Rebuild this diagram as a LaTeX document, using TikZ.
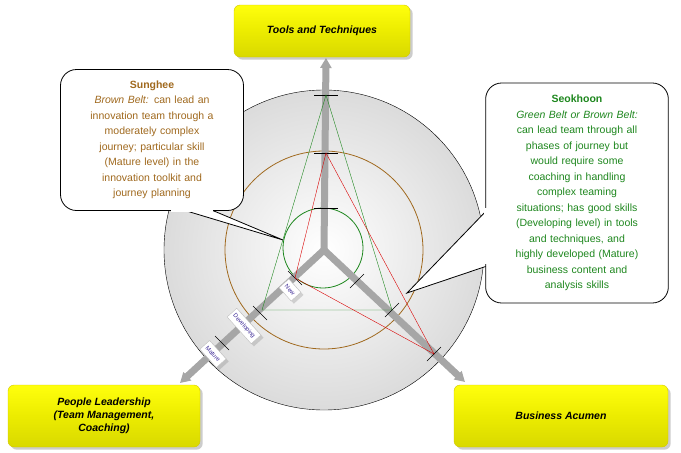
\documentclass[tikz,border=0pt]{standalone}
\usepackage{fontspec}
\setmainfont{Liberation Sans}
\usetikzlibrary{shadows,arrows.meta}
\definecolor{brn}{RGB}{160,105,30}
\definecolor{grn}{RGB}{30,135,30}
\definecolor{lbl}{RGB}{60,40,150}
\begin{document}
\begin{tikzpicture}[x=1pt,y=-1pt,
  ybox/.style={draw=yellow!60!olive, rounded corners=6pt, top color=yellow!95!white, bottom color=yellow!70!olive, drop shadow={opacity=0.4}, font=\bfseries\itshape\fontsize{10.5}{13}\selectfont, align=center},
  callout/.style={draw=black, thick, fill=white, rounded corners=16pt, align=center, font=\fontsize{10.5}{15.5}\selectfont},
  axis/.style={line width=7pt, draw=gray!70, -{Triangle[length=10pt,width=11pt]}},
  tick/.style={draw=black, line width=0.6pt},
  lvl/.style={draw=gray!50, fill=white, font=\fontsize{6}{7}\selectfont, text=lbl, rotate=-48, inner sep=3pt, minimum height=13pt, drop shadow={opacity=0.3}}]
\useasboundingbox (0,0) rectangle (681,453);
\coordinate (c) at (324,250);
\shade[inner color=white, outer color=gray!28, draw=black] (c) circle (160);
\draw[brn, thick] (c) circle (99);
\draw[grn, thick] (323,248) circle (40);
% axes
\coordinate (tu) at (326,58);
\coordinate (tl) at (180,383);
\coordinate (tr) at (465,382);
\draw[axis] (c) -- (tu);
\draw[axis] (c) -- (tl);
\draw[axis] (c) -- (tr);
% ticks
\foreach \y in {95,153,208} \draw[tick] (314,\y) -- (338,\y);
\foreach \p in {(295,278),(260,313),(222,343)} \draw[tick] \p ++(-7,-7) -- ++(14,14);
\foreach \p in {(357,281),(392,310),(434,354)} \draw[tick] \p ++(-7,7) -- ++(14,-14);
% triangles
\coordinate (gA) at (326,95); \coordinate (gB) at (262,310); \coordinate (gC) at (392,310);
\draw[grn] (gA) -- (gB) -- (gC) -- cycle;
\coordinate (rA) at (326,153); \coordinate (rB) at (295,278); \coordinate (rC) at (434,354);
\draw[red!85!black] (rA) -- (rB) -- (rC) -- cycle;
% level labels
\node[lvl] (new) at (290,290) {New};
\node[lvl] (dev) at (244,326) {Developing};
\node[lvl] (mat) at (213,354) {Mature};
% yellow boxes
\node[ybox, minimum width=176pt, minimum height=52pt] (tools) at (322,31) {Tools and Techniques};
\node[ybox, minimum width=192pt, minimum height=62pt] (people) at (104,416) {People Leadership\\(Team Management,\\Coaching)};
\node[ybox, minimum width=214pt, minimum height=62pt] (bus) at (561,416) {Business Acumen};
% callouts
\coordinate (p1) at (283,240);
\coordinate (p2) at (407,293);
\draw[thick, fill=white] (170,206) -- (p1) -- (214,211) -- cycle;
\node[callout, text=brn, minimum width=183pt, minimum height=141pt, text width=176pt] (sung) at (152,140)
 {\textbf{Sunghee}\\\textit{Brown Belt:} can lead an\\innovation team through a\\moderately complex\\journey; particular skill\\(Mature level) in the\\innovation toolkit and\\journey planning};
\draw[thick, fill=white] (490,207) -- (p2) -- (490,265) -- cycle;
\node[callout, text=grn, minimum width=182pt, minimum height=220pt, text width=176pt] (seok) at (577,193)
 {\textbf{Seokhoon}\\\textit{Green Belt or Brown Belt:}\\can lead team through all\\phases of journey but\\would require some\\coaching in handling\\complex teaming\\situations; has good skills\\(Developing level) in tools\\and techniques, and\\highly developed (Mature)\\business content and\\analysis skills};
\fill[white] (171,205) -- (213,205) -- (213,212) -- (171,212) -- cycle;
\fill[white] (484,208) -- (492,208) -- (492,264) -- (484,264) -- cycle;
\end{tikzpicture}
\end{document}
